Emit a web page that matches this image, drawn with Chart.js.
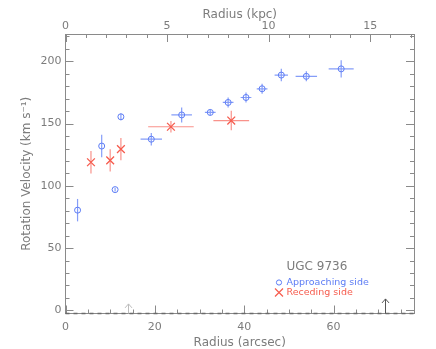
<!DOCTYPE html>
<html><head><meta charset="utf-8">
<script src="https://cdn.jsdelivr.net/npm/chart.js@4/dist/chart.umd.min.js"></script>
<style>html,body{margin:0;padding:0;background:#fff}</style>
</head><body>
<canvas id="c" width="436" height="349"></canvas>
<script>
// ---- data ----
const approachR    = [2.7, 8.1, 11.1, 12.4, 19.2, 26.0, 32.4, 36.4, 40.4, 44.0, 48.3, 53.9, 61.7];
const approachV    = [80.5, 132, 97, 155.5, 137.5, 157, 159, 167, 171, 178, 189, 188, 194];
const approachRErr = [0, 0, 0, 0, 2.4, 2.3, 1.2, 1.2, 1.2, 1.2, 1.5, 2.4, 2.8];
const approachVErr = [9, 9, 1.5, 2.7, 5, 6, 2.4, 4, 4, 4, 5, 4, 7];

const recedeR    = [5.7, 10.0, 12.4, 23.6, 37.1];
const recedeV    = [119, 120.5, 129.5, 147.5, 152.5];
const recedeRErr = [0, 0, 0, 5.1, 4.0];
const recedeVErr = [9, 9, 9, 4.7, 7.9];

const xTicks   = [0, 20, 40, 60];
const kpcTicks = [0, 5, 10, 15];
const yTicks   = [0, 50, 100, 150, 200];
const xMinorStep = 5, kpcMinorStep = 1, yMinorStep = 10;
const xRange = [0, 78];
const yRange = [-2.5, 222];
const kpcPerArcsec = 0.22;
const arrowR   = [14.1, 71.4];
const arrowTip = [5.2, 9.2];
const galaxyName = 'UGC 9736';

// ---- styles ----
const GREY = '#7c7c7c';
const AXIS = '#8a8a8a';
const BLUE = 'rgb(92,124,245)';
const BLUE_BAR = 'rgba(92,124,245,0.75)';
const RED = 'rgb(246,92,78)';
const RED_BAR = 'rgba(246,100,90,0.7)';
const arrowColors = ['#bdbdbd', '#555555'];
const FONT = 'DejaVu Sans';

const toPts = (xs, ys) => xs.map((x, i) => ({x: x, y: ys[i]}));

const errorBars = {
  id: 'errorBars',
  beforeDatasetsDraw(chart) {
    const {ctx, scales: {x, y}} = chart;
    const sets = [
      [approachR, approachV, approachRErr, approachVErr, BLUE_BAR],
      [recedeR, recedeV, recedeRErr, recedeVErr, RED_BAR]
    ];
    ctx.save();
    ctx.lineWidth = 1.2;
    sets.forEach(([rs, vs, re, ve, col]) => {
      ctx.strokeStyle = col;
      rs.forEach((r, i) => {
        const px = x.getPixelForValue(r), py = y.getPixelForValue(vs[i]);
        ctx.beginPath();
        if (ve[i] > 0) {
          ctx.moveTo(px, y.getPixelForValue(vs[i] - ve[i]));
          ctx.lineTo(px, y.getPixelForValue(vs[i] + ve[i]));
        }
        if (re[i] > 0) {
          ctx.moveTo(x.getPixelForValue(r - re[i]), py);
          ctx.lineTo(x.getPixelForValue(r + re[i]), py);
        }
        ctx.stroke();
      });
    });
    ctx.restore();
  }
};

const decorations = {
  id: 'decorations',
  afterDraw(chart) {
    const {ctx, chartArea: a, scales} = chart;
    const sx = scales.x, sk = scales.x2, sy = scales.y;
    ctx.save();
    ctx.strokeStyle = AXIS;
    ctx.lineWidth = 1;
    const isMajor = (v, majors) => majors.some(m => Math.abs(m - v) < 1e-6);
    const hTicksSide = (scale, step, majors, side) => {
      for (let k = Math.ceil(scale.min / step); k * step <= scale.max + 1e-9; k++) {
        const v = k * step;
        const px = Math.round(scale.getPixelForValue(v)) + 0.5;
        const len = isMajor(v, majors) ? 8 : 4;
        ctx.beginPath();
        if (side === 'bottom') { ctx.moveTo(px, a.bottom); ctx.lineTo(px, a.bottom - len); }
        else { ctx.moveTo(px, a.top); ctx.lineTo(px, a.top + len); }
        ctx.stroke();
      }
    };
    hTicksSide(sx, xMinorStep, xTicks, 'bottom');
    hTicksSide(sk, kpcMinorStep, kpcTicks, 'top');
    for (let k = Math.ceil(sy.min / yMinorStep); k * yMinorStep <= sy.max + 1e-9; k++) {
      const v = k * yMinorStep;
      const py = Math.round(sy.getPixelForValue(v)) + 0.5;
      const len = isMajor(v, yTicks) ? 8 : 4;
      ctx.beginPath();
      ctx.moveTo(a.left, py); ctx.lineTo(a.left + len, py);
      ctx.moveTo(a.right, py); ctx.lineTo(a.right - len, py);
      ctx.stroke();
    }
    // dashed line along the baseline
    ctx.strokeStyle = '#6a6a6a';
    ctx.lineWidth = 1.5;
    ctx.setLineDash([4, 4]);
    ctx.beginPath();
    ctx.moveTo(a.left, a.bottom); ctx.lineTo(a.right, a.bottom);
    ctx.stroke();
    ctx.setLineDash([]);
    // arrows
    ctx.lineWidth = 1;
    arrowR.forEach((r, i) => {
      const px = Math.round(sx.getPixelForValue(r)) + 0.5;
      const tip = sy.getPixelForValue(arrowTip[i]);
      ctx.strokeStyle = arrowColors[i];
      ctx.beginPath();
      ctx.moveTo(px, a.bottom); ctx.lineTo(px, tip);
      ctx.moveTo(px - 3.5, tip + 4); ctx.lineTo(px, tip); ctx.lineTo(px + 3.5, tip + 4);
      ctx.stroke();
    });
    // annotation / legend
    ctx.textBaseline = 'middle';
    ctx.textAlign = 'left';
    ctx.fillStyle = GREY;
    ctx.font = '12px "' + FONT + '"';
    const lx = a.left + 221, ly = a.top + 233;
    ctx.fillText(galaxyName, lx, ly);
    ctx.font = '9.5px "' + FONT + '"';
    ctx.fillStyle = BLUE;
    ctx.fillText('Approaching side', lx, ly + 15.5);
    ctx.fillStyle = RED;
    ctx.fillText('Receding side', lx, ly + 25.5);
    ctx.strokeStyle = BLUE; ctx.lineWidth = 1;
    ctx.beginPath(); ctx.arc(lx - 7.5, ly + 15.5, 2.6, 0, Math.PI * 2); ctx.stroke();
    ctx.strokeStyle = RED; ctx.lineWidth = 1.2;
    ctx.beginPath();
    ctx.moveTo(lx - 11.5, ly + 21.5); ctx.lineTo(lx - 3.5, ly + 29.5);
    ctx.moveTo(lx - 3.5, ly + 21.5); ctx.lineTo(lx - 11.5, ly + 29.5);
    ctx.stroke();
    ctx.restore();
  }
};

const tickFont = {family: FONT, size: 11};
const titleFont = {family: FONT, size: 12, lineHeight: 1};
const noGrid = {display: false, drawTicks: false, tickLength: 0};

new Chart(document.getElementById('c'), {
  type: 'scatter',
  data: {
    datasets: [
      {label: 'Approaching side', data: toPts(approachR, approachV), pointStyle: 'circle',
       pointRadius: 3, pointBorderWidth: 1, borderColor: BLUE, backgroundColor: 'rgba(0,0,0,0)', xAxisID: 'x', yAxisID: 'y'},
      {label: 'Receding side', data: toPts(recedeR, recedeV), pointStyle: 'crossRot',
       pointRadius: 5.5, pointBorderWidth: 1.3, borderColor: RED, backgroundColor: RED, xAxisID: 'x', yAxisID: 'y'}
    ]
  },
  options: {
    responsive: false,
    animation: false,
    devicePixelRatio: 1,
    layout: {padding: 0},
    plugins: {legend: {display: false}, tooltip: {enabled: false}},
    elements: {point: {hoverRadius: 3}},
    scales: {
      x: {
        type: 'linear', position: 'bottom', min: xRange[0], max: xRange[1],
        afterBuildTicks: s => { s.ticks = xTicks.map(v => ({value: v})); },
        afterFit: s => { s.height = 35.5; },
        grid: noGrid,
        border: {display: true, color: AXIS, width: 1},
        ticks: {color: GREY, font: tickFont, padding: 7, maxRotation: 0},
        title: {display: true, text: 'Radius (arcsec)', color: GREY, font: titleFont, padding: {top: 0, bottom: 0}}
      },
      x2: {
        type: 'linear', position: 'top', min: xRange[0] * kpcPerArcsec, max: xRange[1] * kpcPerArcsec,
        afterBuildTicks: s => { s.ticks = kpcTicks.map(v => ({value: v})); },
        afterFit: s => { s.height = 34; },
        grid: noGrid,
        border: {display: true, color: AXIS, width: 1},
        ticks: {color: GREY, font: tickFont, padding: 1, maxRotation: 0},
        title: {display: true, text: 'Radius (kpc)', color: GREY, font: titleFont, padding: {top: 9, bottom: 0}}
      },
      y: {
        type: 'linear', position: 'left', min: yRange[0], max: yRange[1],
        afterBuildTicks: s => { s.ticks = yTicks.map(v => ({value: v})); },
        afterFit: s => { s.width = 65.5; },
        grid: noGrid,
        border: {display: true, color: AXIS, width: 1},
        ticks: {color: GREY, font: tickFont, padding: 4},
        title: {display: true, text: 'Rotation Velocity (km s\u207B\u00B9)', color: GREY, font: titleFont, padding: {top: 21, bottom: 0}}
      },
      y2: {
        type: 'linear', position: 'right', min: yRange[0], max: yRange[1],
        afterBuildTicks: s => { s.ticks = yTicks.map(v => ({value: v})); },
        afterFit: s => { s.width = 22; },
        grid: noGrid,
        border: {display: true, color: AXIS, width: 1},
        ticks: {display: false}
      }
    }
  },
  plugins: [errorBars, decorations]
});
</script>
</body></html>
